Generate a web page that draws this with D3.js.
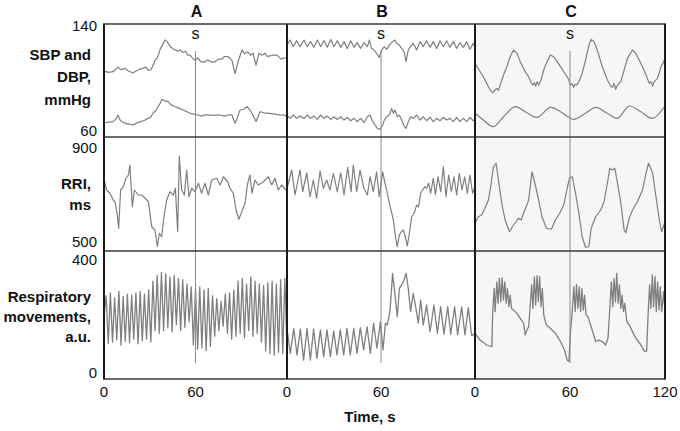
<!DOCTYPE html>
<html>
<head>
<meta charset="utf-8">
<script src="https://cdn.jsdelivr.net/npm/d3@7"></script>
<style>
  body { margin: 0; background: #fff; }
  text { font-family: "Liberation Sans", Arial, sans-serif; fill: #111; }
</style>
</head>
<body>
<script>
const panels = ['A', 'B', 'C']
const timeTicks = [[0, 60], [0, 60], [0, 60, 120]]
const rowTicks = [[60, 140], [500, 900], [0, 400]]
const rowTitles = [['SBP and', 'DBP,', 'mmHg'], ['RRI,', 'ms'], ['Respiratory', 'movements,', 'a.u.']]
const stimulusTime = 60

// blood pressure, mmHg  [time s, value]
const sbpA = [[0,106],[3,105],[5.9,105.5],[7.5,107],[9.2,109],[11,107],[13.8,108],[16,106],[19,104.5],[21,106],[23.6,107.5],[25.5,108],[27.5,109],[29,106.5],[30.8,107],[32,110],[33.4,114],[35,116],[36.7,122],[38,125],[40,129.5],[41.5,128],[43.3,124.5],[45,123],[46.6,122],[48.5,121],[50,122],[51.8,120],[53.5,121],[55,118],[56.4,118],[58,116],[59.7,114],[61.6,116],[63.5,113],[66.2,113],[68,114.5],[70,113],[72.8,113],[75,115],[77.4,115],[79,117],[81.3,117],[83.9,114],[85.9,104],[87.9,113],[90.5,122],[92,119],[94.4,120.5],[96,118],[97.7,119.5],[99.7,110.5],[101.6,119.5],[103.5,118],[105.6,119.5],[107,117],[108.9,117.5],[111,118],[113.4,118],[116.1,115],[118,116],[119.3,115.5]]
const dbpA = [[0,67],[3,67.5],[5.9,67.8],[8,70],[9.2,72.8],[10.5,69],[11.8,67.8],[14,66.5],[16.5,66],[19,65.3],[21,66.5],[23.6,67.8],[26,68.5],[28.9,70.3],[30.5,71],[32.1,74.1],[34,76],[35.4,79.1],[37,82],[38,84.7],[40,83.5],[42,82.9],[44,80.5],[46.6,79.1],[49,78],[51.8,76.6],[54,75.5],[56.4,74.1],[59,73.5],[61.6,72.8],[64,72],[66,73],[69.5,72.8],[72,72.5],[75,73],[79.3,72],[81.5,73],[83.9,72.8],[85.9,66.6],[87.5,71],[89.2,76.6],[91.5,77],[93.8,79.1],[95.5,77],[97,74.1],[99.7,68],[102.3,75.3],[105,74.5],[108.9,74.1],[112,73.5],[115.4,72.8],[117.5,73],[119.3,72]]
const sbpB = [[0,125.6],[1.9,129.4],[4,124.4],[6.2,128.9],[8.3,124.4],[10.9,129.4],[13,124.4],[15.1,128.2],[17.2,123.9],[19.4,129.4],[21.5,124.4],[23.6,128.9],[25.7,123.9],[27.9,129.9],[30,124.4],[32.1,128.9],[34.3,123.9],[36.4,128.2],[38.5,123.1],[40.6,128.9],[42.8,123.9],[44.9,127.4],[47,123.1],[49.1,127.4],[51.3,124.4],[52.6,129.4],[54,123.1],[55.5,121.9],[57.2,119.4],[58.9,116.3],[60.4,121.9],[62.1,124.4],[63.6,122.4],[65.3,125.6],[67.4,128.2],[68.9,129.4],[70,126.9],[71.7,125.6],[73.2,123.1],[74.7,120.6],[76,113.1],[77.4,121.9],[78.9,124.4],[80.6,126.9],[82.8,121.9],[84.9,128.2],[87,124.4],[89.1,128.9],[91.3,123.9],[93.4,128.2],[95.5,123.1],[97.7,128.9],[99.8,124.4],[101.9,128.9],[104,123.9],[106.2,128.2],[108.3,123.1],[110.4,127.4],[112.6,123.9],[114.7,128.2],[116.8,122.4],[118.9,126.9],[120,124.4]]
const dbpB = [[0,72.8],[1.9,70.3],[4,72.8],[6.2,70.3],[8.3,72],[10.9,70.3],[13,72.8],[15.1,70.3],[17.2,72],[19.4,69.5],[21.5,72.8],[23.6,70.3],[25.7,72],[27.9,69.5],[30,71.5],[32.1,69.5],[34.3,71.5],[36.4,69],[38.5,71],[40.6,68.5],[42.8,70.3],[44.9,67.8],[47,70.3],[49.1,67],[51.3,71.5],[53,72.8],[54.7,67.8],[56.2,65.3],[57.7,62.7],[59.4,62],[61.1,65.3],[62.1,69],[63.6,71.5],[65.3,72.8],[66.8,77.8],[67.9,74.1],[68.9,76.6],[70.4,71.5],[71.7,72.8],[73.2,69],[74.7,64.5],[76,62.7],[77.4,67.8],[78.9,71.5],[80.6,70.3],[82.8,72.8],[84.9,69],[87,71.5],[89.1,68.5],[91.3,71],[93.4,67.8],[95.5,70.3],[97.7,68.5],[99.8,71],[101.9,69],[104,70.3],[106.2,67.8],[108.3,71],[110.4,67.8],[112.6,70.3],[114.7,67.8],[116.8,71],[118.9,68.5],[120,69.5]]
const sbpC = [[0,111.8],[2.5,107],[5.3,101.7],[8.5,94.2],[10,91],[11.2,89.7],[12.5,91.5],[13.8,92.9],[14.8,91.5],[15.9,95.4],[18,103],[20.1,109.3],[22.2,116.8],[24.3,121.9],[26.5,119.3],[28.6,113.1],[31.7,105.5],[33.9,101.7],[35.6,96.7],[36.6,95.4],[37.5,97.2],[38.3,94.7],[39.2,98],[40.2,95.4],[41.7,99.2],[43.4,106.8],[45.5,113.1],[47.6,118.1],[49.7,116.8],[51.9,113.1],[54,109.3],[56.1,105.5],[58.8,100.5],[60.3,95.4],[61.3,96.5],[62.4,93.7],[63.2,96],[64.1,95.4],[65.6,98],[67.7,104.2],[69.8,114.3],[72,125.6],[73.4,129.9],[75.1,128.2],[77.2,121.9],[80.4,109.3],[83.6,99.2],[85.7,94.7],[86.8,93.7],[87.8,96.7],[88.9,92.2],[89.9,95.4],[92.1,98],[94.2,106.8],[96.3,115.6],[99.5,121.9],[101.6,119.3],[103.7,114.3],[105.8,109.3],[108,103],[110.1,96.7],[111.1,98],[112.2,94.7],[113.2,98],[115.3,100.5],[117.5,109.3],[119.2,113.1],[120,115.6]]
const dbpC = [[0,74.1],[5.3,69],[11.6,64],[18,71.5],[25.4,79.1],[31.7,75.3],[39.2,71],[47.6,78.6],[54,75.3],[58.8,71.5],[62.4,69.5],[69.8,74.1],[76.2,78.6],[83.6,74.1],[89.9,70.3],[97.4,79.6],[104.8,75.3],[112.2,70.3],[120,79.6]]

// R-R intervals, ms  [time s, value]
const rriA = [[0,763],[1.7,720],[3.9,707],[6.1,680],[7.2,673],[8.7,620],[9.6,567],[10.9,720],[12.7,733],[14.4,767],[16,780],[17,820],[18.6,653],[19.9,720],[22.5,700],[24.7,700],[26.9,687],[29.1,673],[31.3,573],[33.4,560],[35,493],[36.3,547],[37.8,533],[39.3,613],[41.1,680],[43.3,713],[45.5,700],[46.8,727],[48.3,553],[49.4,856],[50.9,720],[52.7,700],[54.2,800],[55.7,693],[57.5,727],[59.7,713],[61.9,747],[64,707],[66.2,747],[68.4,700],[70.6,760],[73.9,767],[76.1,740],[78.3,773],[81.1,753],[82.6,727],[84.8,707],[86.6,640],[88.5,603],[90.3,633],[92.5,667],[94,740],[95.7,780],[97,707],[99,760],[101.2,740],[104.5,753],[107.8,773],[110,740],[112.1,767],[114.3,720],[116.5,740],[119.3,720]]
const rriB = [[0,727],[3,800],[5.1,700],[8.3,800],[10,713],[12.6,789],[14.7,693],[16.8,760],[18.9,687],[21.1,797],[23.2,727],[25.3,760],[27.4,720],[29.6,787],[32.1,713],[34.3,789],[36.4,700],[38.7,811],[40.9,713],[42.3,820],[44.5,713],[46.6,800],[49.1,727],[51.3,700],[53,773],[55.1,713],[57.2,793],[58.9,693],[61.1,793],[62.1,760],[63.6,720],[64.9,680],[66.4,640],[67.9,600],[69.1,540],[70.4,493],[71.7,540],[73,553],[74.3,560],[75.5,533],[76.8,496],[78.1,547],[79.6,613],[81.1,627],[82.8,660],[84,653],[85.3,707],[86.6,720],[87.9,733],[89.1,727],[90.4,747],[91.7,707],[93.4,767],[94.7,700],[96.4,773],[98.1,713],[99.8,813],[101.5,693],[103.2,780],[104.9,713],[106.6,773],[108.3,700],[110,787],[111.7,720],[113.4,773],[115.1,707],[116.8,780],[118.5,707],[120,733]]
const rriC = [[0,587],[2.1,613],[4.2,620],[6.3,647],[8.5,680],[9.9,733],[11.6,813],[13.3,827],[14.8,760],[16.9,667],[19,600],[21.8,553],[24.3,580],[25.9,593],[27.5,607],[29.1,600],[30.7,627],[33.9,680],[36,793],[38.1,740],[40.2,680],[42.3,613],[45.1,567],[48.3,563],[50.8,600],[53.5,627],[56.1,660],[58.2,727],[59.7,767],[61.4,773],[63.5,707],[65.6,627],[67.7,533],[69.8,491],[71.9,493],[73.4,567],[76.2,613],[79.4,640],[81.5,673],[83.6,747],[85.1,807],[86.8,800],[88.3,807],[90,747],[92.1,667],[94.2,560],[95.2,549],[97.4,607],[99.5,640],[102.6,673],[105.8,720],[108,787],[109.6,827],[112.2,787],[114.3,693],[116.4,600],[117.9,553],[120,593]]

// respiratory movements, a.u.
// A: successive peaks and troughs, evenly spaced over 0-120 s
const respA = [200,
  270,105, 280,110, 262,118, 285,100, 268,112, 275,108, 272,120, 280,104, 285,115, 275,120, 290,110,
  320,150, 340,140, 350,150, 345,160, 335,145, 340,170, 330,150, 325,160, 310,180,
  300,100, 295,85, 300,90, 290,80, 295,95, 270,130, 260,150, 250,165, 275,140, 280,120, 290,130,
  320,140, 330,125, 310,150, 335,130, 320,140, 310,110, 305,80, 315,70, 320,65, 310,75, 325,70, 330,90]
const respB = [[0,157],[2.1,71],[4.3,157],[6.4,66],[8.5,155],[10.6,48],[12.8,157],[14.9,48],[17,155],[19.1,54],[21.3,152],[23.4,60],[25.5,152],[27.7,60],[29.8,148],[31.9,66],[34,152],[36.2,66],[38.3,157],[40.4,66],[42.6,157],[44.7,71],[46.8,160],[48.9,83],[51.1,163],[53.2,71],[55.3,175],[57.4,89],[59.6,180],[61.3,83],[62.8,175],[64,169],[65.7,215],[67.4,347],[68.9,272],[70.4,198],[71.7,295],[73.2,307],[74.7,324],[76,347],[77.4,295],[78.9,215],[80.6,278],[82.3,226],[83.8,175],[85.3,255],[87,169],[89.1,238],[91.3,146],[93.8,238],[96,140],[98.1,232],[100.2,137],[102.6,232],[104.5,137],[107,232],[108.9,135],[111.5,232],[113.6,135],[115.7,229],[117.9,132],[120,140]]
const respC = [[0,140],[3.2,117],[7.4,100],[10.6,94],[11.2,215],[12.1,295],[12.7,215],[13.8,318],[14.6,244],[15.4,330],[16.3,249],[17.1,332],[18,255],[18.8,318],[19.7,244],[20.5,295],[21.4,232],[22.2,272],[23.1,226],[24.3,221],[26.5,209],[28.6,192],[30.7,175],[31.7,135],[32.8,152],[33.9,163],[34.9,238],[35.8,307],[36.6,226],[37.5,336],[38.3,238],[39.2,339],[40,249],[40.8,336],[41.7,232],[42.5,295],[43.4,204],[45.1,169],[47.6,158],[50.8,140],[54,112],[56.5,83],[58.2,48],[59.3,43],[60.3,146],[61.4,215],[62.4,301],[63.3,215],[64.1,309],[65,226],[65.8,301],[66.7,215],[67.5,295],[68.4,221],[69.2,272],[70.1,204],[71.3,198],[73,169],[74.7,140],[76.2,112],[78.3,117],[80.4,112],[82.5,100],[84,123],[85.3,238],[86.1,318],[87,232],[87.8,330],[88.7,249],[89.5,347],[90.4,244],[91.2,307],[92.1,226],[92.9,272],[93.8,215],[94.6,244],[95.9,180],[97.4,169],[99.5,146],[101.6,123],[104.8,100],[106.9,79],[108.4,79],[109.4,215],[110.3,307],[111.1,226],[112,341],[112.8,232],[113.7,336],[114.5,215],[115.3,318],[116.2,221],[117,301],[117.9,215],[119.2,284],[120,215]]

const w = 680
const h = 431
const colEdges = [104, 287, 475, 665]
const rowEdges = [24, 137, 251, 379]
const rowRanges = [[132, 26], [245, 145], [374, 258]]
const traceColor = '#7f7f7f'

const svg = d3.select('body')
  .append('svg')
  .attr('width', w)
  .attr('height', h)

const xScales = panels.map((p, i) => d3.scaleLinear()
  .domain([0, 120])
  .range([colEdges[i], colEdges[i + 1]]))

const yScales = rowTicks.map((d, i) => d3.scaleLinear()
  .domain(d)
  .range(rowRanges[i]))

// panel C has a faint grey background
svg.append('rect')
  .attr('x', colEdges[2])
  .attr('y', rowEdges[0])
  .attr('width', colEdges[3] - colEdges[2])
  .attr('height', rowEdges[3] - rowEdges[0])
  .style('fill', '#f6f6f6')

const respAPairs = respA.map((v, i) => [i * 120 / (respA.length - 1), v])

const traces = [
  [0, 0, sbpA], [0, 0, dbpA], [0, 1, rriA], [0, 2, respAPairs],
  [1, 0, sbpB], [1, 0, dbpB], [1, 1, rriB], [1, 2, respB],
  [2, 0, sbpC], [2, 0, dbpC, true], [2, 1, rriC], [2, 2, respC]
]

traces.forEach(([col, row, data, smooth]) => {
  const line = d3.line()
    .x(d => xScales[col](d[0]))
    .y(d => yScales[row](d[1]))
  if (smooth) line.curve(d3.curveCatmullRom)
  svg.append('path')
    .datum(data)
    .attr('d', line)
    .style('fill', 'none')
    .style('stroke', traceColor)
    .style('stroke-width', row === 2 ? 1.3 : 1.2)
    .style('stroke-linejoin', 'round')
})

// stimulus markers
panels.forEach((p, i) => {
  const sx = xScales[i](stimulusTime)
  svg.append('line')
    .attr('x1', sx).attr('x2', sx)
    .attr('y1', 51).attr('y2', 363)
    .style('stroke', '#8c8c8c')
    .style('stroke-width', 1)
  svg.append('text')
    .attr('x', sx)
    .attr('y', 39)
    .attr('text-anchor', 'middle')
    .style('font-size', '16px')
    .text('s')
  svg.append('text')
    .attr('x', sx + 1)
    .attr('y', 16.5)
    .attr('text-anchor', 'middle')
    .style('font-size', '16px')
    .style('font-weight', 'bold')
    .text(p)
})

// frame
rowEdges.forEach(y => {
  svg.append('line')
    .attr('x1', colEdges[0] - 1).attr('x2', colEdges[3] + 1)
    .attr('y1', y).attr('y2', y)
    .style('stroke', '#3a3a3a')
    .style('stroke-width', 1.5)
})
colEdges.forEach(x => {
  svg.append('line')
    .attr('x1', x).attr('x2', x)
    .attr('y1', rowEdges[0]).attr('y2', rowEdges[3])
    .style('stroke', '#1a1a1a')
    .style('stroke-width', 2)
})

// y tick labels: top label of each row sits a little lower than its value line
const tickShift = [[4, 5], [1.5, 8], [4, 6.5]]
rowTicks.forEach((ticks, r) => {
  ticks.forEach((v, k) => {
    svg.append('text')
      .attr('x', 97)
      .attr('y', yScales[r](v) + tickShift[r][k])
      .attr('text-anchor', 'end')
      .style('font-size', '15px')
      .text(v)
  })
})

// x tick labels
timeTicks.forEach((ticks, i) => {
  ticks.forEach(v => {
    svg.append('text')
      .attr('x', xScales[i](v))
      .attr('y', 397)
      .attr('text-anchor', 'middle')
      .style('font-size', '15px')
      .text(v)
  })
})

// row titles
const titleBaselines = [[60, 82, 105], [189, 210], [302, 322, 342]]
rowTitles.forEach((lines, r) => {
  lines.forEach((t, k) => {
    svg.append('text')
      .attr('x', 91)
      .attr('y', titleBaselines[r][k])
      .attr('text-anchor', 'end')
      .style('font-size', '15px')
      .style('font-weight', 'bold')
      .text(t)
  })
})

svg.append('text')
  .attr('x', 370)
  .attr('y', 422)
  .attr('text-anchor', 'middle')
  .style('font-size', '15px')
  .style('font-weight', 'bold')
  .text('Time, s')
</script>
</body>
</html>
